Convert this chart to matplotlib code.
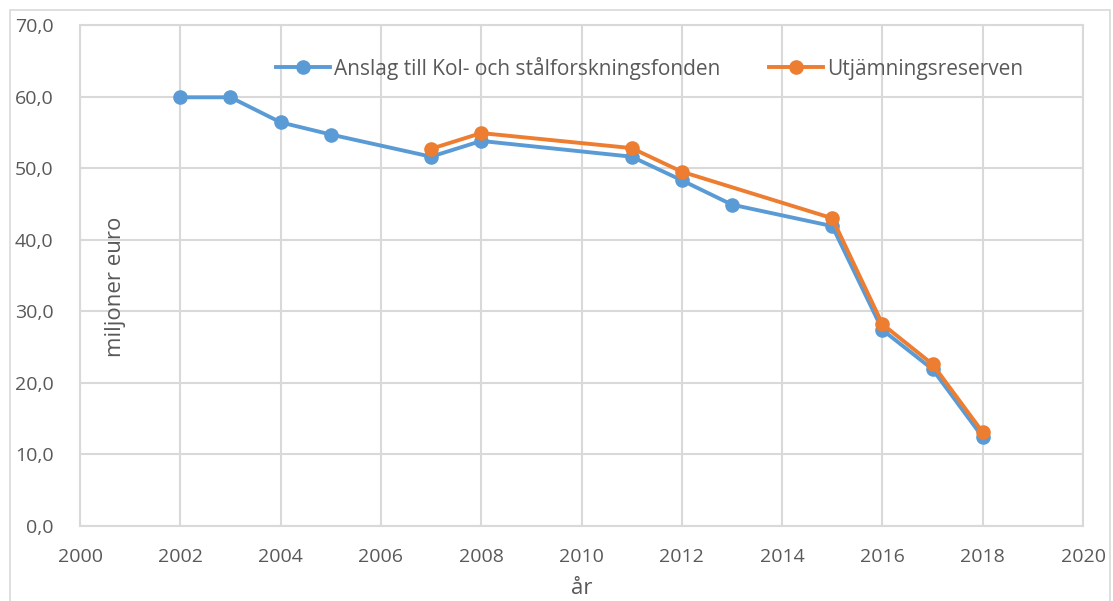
import matplotlib.pyplot as plt
from matplotlib.patches import Rectangle
from matplotlib.ticker import FuncFormatter

plt.rcParams['font.family'] = ['Open Sans', 'DejaVu Sans']

years_a = [2002, 2003, 2004, 2005, 2007, 2008, 2011, 2012, 2013, 2015, 2016, 2017, 2018]
anslag = [59.9, 59.9, 56.4, 54.7, 51.6, 53.8, 51.6, 48.3, 44.9, 41.9, 27.4, 21.9, 12.4]

years_u = [2007, 2008, 2011, 2012, 2015, 2016, 2017, 2018]
utjamning = [52.7, 54.9, 52.8, 49.5, 43.0, 28.2, 22.6, 13.1]

label_a = 'Anslag till Kol- och stålforskningsfonden'
label_u = 'Utjämningsreserven'

grey = '#595959'
grid_c = '#d9d9d9'

fig = plt.figure(figsize=(11.13, 6.01), dpi=100)
ax = fig.add_axes([80/1113, 1-526/601, 1003/1113, 501/601])

# outer frame
fig.patches.append(Rectangle((10/1113, -0.05), 1100/1113, 1-10/601+0.05,
                             transform=fig.transFigure, fill=False,
                             edgecolor=grid_c, linewidth=1.2))

ax.plot(years_a, anslag, color='#5B9BD5', linewidth=2.8, marker='o',
        markersize=9.5, label=label_a, zorder=3)
ax.plot(years_u, utjamning, color='#ED7D31', linewidth=2.8, marker='o',
        markersize=9.5, label=label_u, zorder=4)

ax.set_xlim(2000, 2020)
ax.set_ylim(0, 70)
ax.set_xticks(range(2000, 2021, 2))
ax.set_yticks(range(0, 71, 10))
ax.yaxis.set_major_formatter(FuncFormatter(lambda v, p: f'{v:.1f}'.replace('.', ',')))
ax.grid(True, color=grid_c, linewidth=1.5)
ax.set_axisbelow(True)
for s in ax.spines.values():
    s.set_color(grid_c)
    s.set_linewidth(1.5)
ax.tick_params(length=0, labelsize=14, labelcolor=grey)
ax.tick_params(axis='x', pad=16)
ax.tick_params(axis='y', pad=19)

ax.text(0.035, 0.477, 'miljoner euro', transform=ax.transAxes, rotation=90,
        ha='center', va='center', fontsize=16, color=grey)
fig.text((80 + 501.5)/1113, 1-588/601, 'år', ha='center', va='center',
         fontsize=16, color=grey)

leg = ax.legend(loc='center', bbox_to_anchor=(0.568, 0.914), ncol=2,
                frameon=False, fontsize=15, handlelength=2.6, columnspacing=2.3,
                handletextpad=0.2, labelcolor=grey, markerscale=1.0)

fig.savefig('out.png', dpi=100)
